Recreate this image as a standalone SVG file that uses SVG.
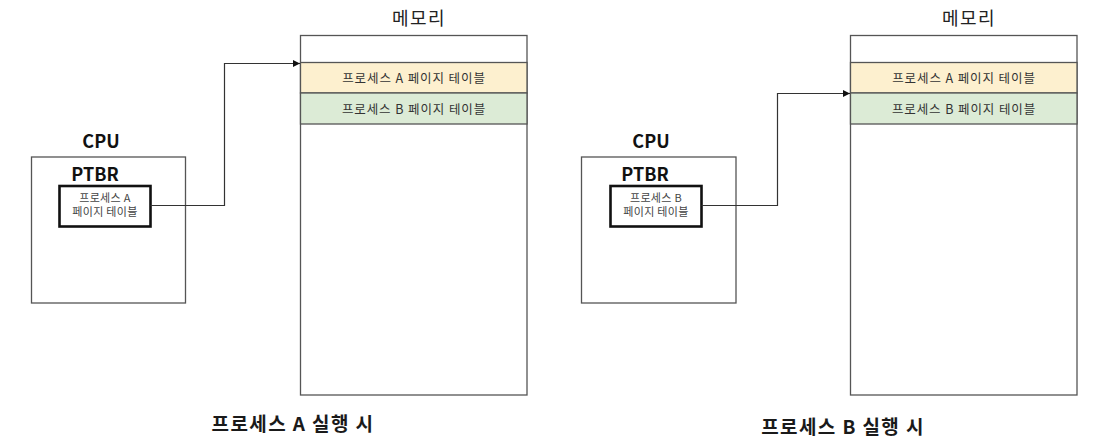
<svg xmlns="http://www.w3.org/2000/svg" width="1108" height="445" viewBox="0 0 1108 445">
  <style>
    .box { fill: #ffffff; stroke: #555555; stroke-width: 1.3; }
    .reg { fill: #ffffff; stroke: #111111; stroke-width: 2.6; }
    .rowA { fill: #fdf0cf; stroke: #555555; stroke-width: 1.3; }
    .rowB { fill: #dcebd6; stroke: #555555; stroke-width: 1.3; }
    .t { font-family: "Noto Sans CJK KR", "Noto Sans", sans-serif; text-anchor: middle; }
    .mem { font-size: 18px; fill: #222222; letter-spacing: 1.5px; }
    .hdr { font-size: 18px; font-weight: bold; fill: #111111; }
    .row { font-size: 12.5px; fill: #333333; letter-spacing: 0.9px; }
    .small { font-size: 11px; fill: #444444; letter-spacing: 0.3px; }
    .title { font-size: 19px; font-weight: bold; fill: #1a1a1a; letter-spacing: 1.4px; }
    .conn { fill: none; stroke: #333333; stroke-width: 1.2; }
  </style>
  <defs>
    <marker id="arrow" markerWidth="8" markerHeight="8" refX="7" refY="4" orient="auto" markerUnits="userSpaceOnUse">
      <path d="M0,0.5 L7,4 L0,7.5 Z" fill="#111111"/>
    </marker>
  </defs>

  <!-- Left panel: process A running -->
  <g id="memory-left">
    <text class="t mem" x="419" y="25">메모리</text>
    <rect class="box" x="300.5" y="35.5" width="226.5" height="359.5"/>
    <rect class="rowA" x="300.5" y="62.5" width="226.5" height="30.5"/>
    <text class="t row" x="414" y="82.5">프로세스 A 페이지 테이블</text>
    <rect class="rowB" x="300.5" y="93" width="226.5" height="31"/>
    <text class="t row" x="414" y="113.5">프로세스 B 페이지 테이블</text>
  </g>
  <g id="cpu-left">
    <text class="t hdr" x="101" y="148">CPU</text>
    <rect class="box" x="31.5" y="157" width="154" height="146"/>
    <text class="t hdr" x="95" y="181">PTBR</text>
  </g>
  <g id="ptbr-left">
    <rect class="reg" x="59.5" y="186" width="91" height="40.5"/>
    <text class="t small" x="105" y="202">프로세스 A</text>
    <text class="t small" x="105" y="216">페이지 테이블</text>
  </g>
  <g id="title-left">
    <text class="t title" x="293" y="431">프로세스 A 실행 시</text>
  </g>

  <!-- Right panel: process B running -->
  <g id="memory-right">
    <text class="t mem" x="969" y="25">메모리</text>
    <rect class="box" x="850.5" y="35.5" width="226.5" height="359.5"/>
    <rect class="rowA" x="850.5" y="62.5" width="226.5" height="30.5"/>
    <text class="t row" x="964" y="82.5">프로세스 A 페이지 테이블</text>
    <rect class="rowB" x="850.5" y="93" width="226.5" height="31"/>
    <text class="t row" x="964" y="113.5">프로세스 B 페이지 테이블</text>
  </g>
  <g id="cpu-right">
    <text class="t hdr" x="651" y="148">CPU</text>
    <rect class="box" x="581.5" y="157" width="154.5" height="146"/>
    <text class="t hdr" x="645" y="181">PTBR</text>
  </g>
  <g id="ptbr-right">
    <rect class="reg" x="610.5" y="186" width="91" height="40.5"/>
    <text class="t small" x="656" y="202">프로세스 B</text>
    <text class="t small" x="656" y="216">페이지 테이블</text>
  </g>
  <g id="title-right">
    <text class="t title" x="843" y="434">프로세스 B 실행 시</text>
  </g>

  <!-- Connectors -->
  <g id="connectors">
    <polyline class="conn" points="150.5,205.5 224.5,205.5 224.5,63.5 300,63.5" marker-end="url(#arrow)"/>
    <polyline class="conn" points="701.5,205.5 777.5,205.5 777.5,93.5 850,93.5" marker-end="url(#arrow)"/>
  </g>
</svg>
